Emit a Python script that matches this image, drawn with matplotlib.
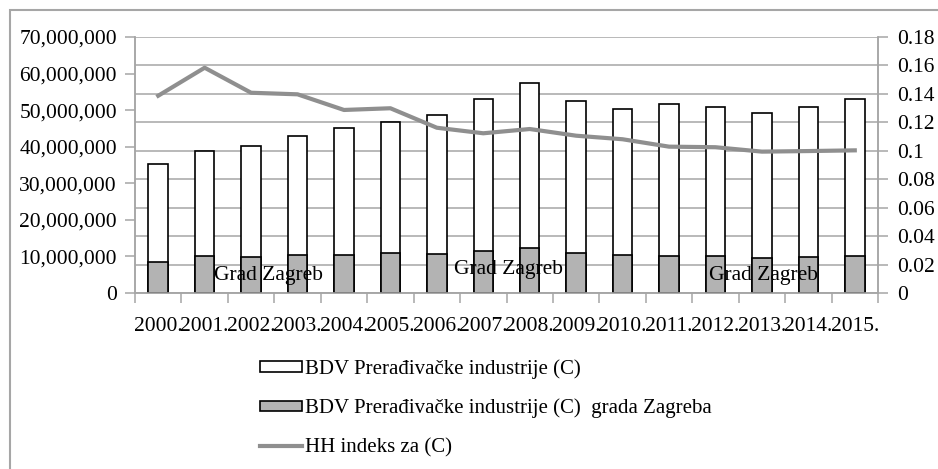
import numpy as np
import matplotlib
matplotlib.use("Agg")
import matplotlib.pyplot as plt
from matplotlib.patches import Rectangle, Patch
from matplotlib.lines import Line2D
from matplotlib.ticker import FuncFormatter

plt.rcParams['font.family'] = ['Liberation Serif', 'DejaVu Serif']
plt.rcParams['font.size'] = 15.5

years = ['2000.', '2001.', '2002.', '2003.', '2004.', '2005.', '2006.', '2007.',
         '2008.', '2009.', '2010.', '2011.', '2012.', '2013.', '2014.', '2015.']
bdv_ukupno = [35.3, 38.8, 40.3, 43.0, 45.2, 46.8, 48.7, 53.1,
              57.4, 52.4, 50.4, 51.7, 50.9, 49.1, 50.9, 53.0]  # milijuni
bdv_zagreb = [8.6, 10.1, 9.9, 10.5, 10.4, 11.0, 10.7, 11.6,
              12.4, 11.0, 10.4, 10.2, 10.2, 9.7, 9.9, 10.2]  # milijuni
hh_indeks = [0.1387, 0.1584, 0.1408, 0.1397, 0.1287, 0.1299, 0.1162, 0.1123,
             0.1153, 0.1106, 0.1081, 0.1029, 0.1025, 0.0994, 0.0998, 0.1003]
oznake = ['Grad Zagreb', 'Grad Zagreb', 'Grad Zagreb']
oznake_x = [2.37, 7.54, 13.03]
oznake_y = [4.65e6, 6.3e6, 4.65e6]

siva_os = '#a6a6a6'
W, H = 938, 469
fig = plt.figure(figsize=(W / 100, H / 100), dpi=100)
ax = fig.add_axes([135 / W, 1 - 293 / H, (878 - 135) / W, (293 - 37) / H])
ax2 = ax.twinx()

x = np.arange(len(years))
ukupno = np.array(bdv_ukupno) * 1e6
zagreb = np.array(bdv_zagreb) * 1e6

# gridlines follow the right axis (0.02 steps)
for t in np.arange(0, 0.181, 0.02):
    ax.axhline(t / 0.18 * 70e6, color=siva_os, lw=1.1, zorder=0)

ax.bar(x, ukupno, width=0.42, color='white', edgecolor='black', lw=1.2, zorder=2)
ax.bar(x, zagreb, width=0.42, color='#b3b3b3', edgecolor='black', lw=1.2, zorder=3)
for s, xx, yy in zip(oznake, oznake_x, oznake_y):
    ax.text(xx, yy, s, ha='center', va='center', zorder=4)

ax.set_xlim(-0.5, len(years) - 0.5)
ax.set_ylim(0, 70e6)
ax.set_yticks(np.arange(0, 70e6 + 1, 10e6))
ax.yaxis.set_major_formatter(FuncFormatter(lambda v, p: f'{v:,.0f}'))
ax.set_xticks(x)
ax.set_xticklabels(years)
ax.set_xticks(np.arange(-0.5, len(years), 1), minor=True)
ax.tick_params(axis='x', which='major', length=0, pad=17)
ax.tick_params(axis='x', which='minor', length=7, color=siva_os, width=1.1)
ax.tick_params(axis='y', length=7, color=siva_os, width=1.1, pad=6)

ax2.plot(x, hh_indeks, color='#8f8f8f', lw=3, zorder=5)
ax2.set_ylim(0, 0.18)
ax2.set_yticks(np.arange(0, 0.181, 0.02))
ax2.yaxis.set_major_formatter(FuncFormatter(lambda v, p: f'{round(v, 2):g}'))
ax2.tick_params(axis='y', length=7, color=siva_os, width=1.1, pad=7)

for a in (ax, ax2):
    a.spines['top'].set_visible(False)
    for s in ('left', 'right', 'bottom'):
        a.spines[s].set_color(siva_os)
        a.spines[s].set_linewidth(1.1)

handles = [Patch(facecolor='white', edgecolor='black', lw=1.2),
           Patch(facecolor='#b3b3b3', edgecolor='black', lw=1.2),
           Line2D([], [], color='#8f8f8f', lw=3)]
labels = ['BDV Prerađivačke industrije (C)',
          'BDV Prerađivačke industrije (C)  grada Zagreba',
          'HH indeks za (C)']
fig.legend(handles, labels, loc='upper left', bbox_to_anchor=(260 / W, 1 - 359 / H),
           frameon=False, handlelength=2.0, handleheight=0.4, handletextpad=0.15,
           labelspacing=0.95, borderpad=0, borderaxespad=0, fontsize=15)

fig.add_artist(Rectangle((10 / W, -0.1), 1.2, 1.1 - 10 / H, transform=fig.transFigure,
                         fill=False, edgecolor=siva_os, lw=1.5, clip_on=False))

fig.savefig('out.png', dpi=100)
